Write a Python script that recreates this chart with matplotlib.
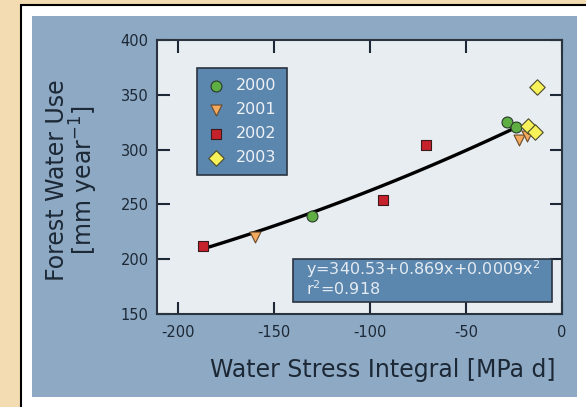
import numpy as np
import matplotlib
matplotlib.use("Agg")
from matplotlib import pyplot as plt
from matplotlib.patches import Rectangle

plt.rcParams['axes.unicode_minus'] = False

# data
x2000 = [-130, -28.5, -24]
y2000 = [239, 325, 321]
x2001 = [-160, -22.5, -18]
y2001 = [220, 308.5, 312.5]
x2002 = [-187, -93.5, -71]
y2002 = [212.5, 254, 304]
x2003 = [-13, -17.5, -14]
y2003 = [357, 321.5, 316]

fit_coef = [340.53, 0.869, 0.0009]
fit_range = [-187, -25]

fig = plt.figure(figsize=(5.86, 4.07), dpi=100, facecolor='#f4dcb2')

# white frame + blue panel
fig.patches.append(Rectangle((0.036, -0.02), 1.0, 1.008, transform=fig.transFigure,
                             facecolor='white', edgecolor='black', linewidth=1.5, zorder=-10))
fig.patches.append(Rectangle((0.0546, 0.0246), 0.930, 0.936, transform=fig.transFigure,
                             facecolor='#8ea9c3', edgecolor='none', zorder=-9))

ax = fig.add_axes([0.268, 0.2285, 0.691, 0.673])
ax.set_facecolor('#e8edf2')

txt = '#1c2836'
ax.scatter(x2000, y2000, marker='o', s=62, color='#5eae44', edgecolor='#2a3a2a', linewidth=0.8, label='2000', zorder=3)
ax.scatter(x2001, y2001, marker='v', s=62, color='#f3a95e', edgecolor='#6a4a2a', linewidth=0.8, label='2001', zorder=3)
ax.scatter(x2002, y2002, marker='s', s=58, color='#c6222b', edgecolor='#3a1a1a', linewidth=0.8, label='2002', zorder=3)
ax.scatter(x2003, y2003, marker='D', s=62, color='#f7f15a', edgecolor='#4a4a2a', linewidth=0.8, label='2003', zorder=3)

xf = np.linspace(fit_range[0], fit_range[1], 100)
yf = fit_coef[0] + fit_coef[1] * xf + fit_coef[2] * xf ** 2
ax.plot(xf, yf, color='black', linewidth=2.4, zorder=2)

ax.set_xlim(-211, 0)
ax.set_ylim(150, 400)
ax.set_xticks([-200, -150, -100, -50, 0])
ax.set_yticks([150, 200, 250, 300, 350, 400])
ax.tick_params(direction='in', length=9, width=1.5, top=True, right=True,
               labelsize=10.5, colors=txt)
ax.tick_params(axis='x', pad=8)
ax.tick_params(axis='y', pad=6)
for sp in ax.spines.values():
    sp.set_linewidth(1.5)
    sp.set_color('#2a3440')

ax.set_xlabel('Water Stress Integral [MPa d]', fontsize=17, color=txt)
ax.xaxis.set_label_coords(0.985, -0.16)
ax.xaxis.label.set_ha('right')
ax.set_ylabel('Forest Water Use\n[mm year$^{-1}$]', fontsize=17, color=txt, linespacing=0.95)
ax.yaxis.set_label_coords(-0.14, 0.49)

leg = ax.legend(loc='upper left', bbox_to_anchor=(0.099, 0.898), fancybox=False,
                facecolor='#5b86ad', edgecolor='#2a3440', framealpha=1, fontsize=11.5,
                labelcolor='#eef2f6', borderpad=0.65, labelspacing=0.55, handletextpad=0.8,
                handlelength=1.0, borderaxespad=0)
leg.get_frame().set_linewidth(1.2)

# equation box
ax.add_patch(Rectangle((0.335, 0.045), 0.64, 0.157, transform=ax.transAxes,
                       facecolor='#5b86ad', edgecolor='#2a3440', linewidth=1.2, zorder=4))
ax.text(0.368, 0.164, 'y=340.53+0.869x+0.0009x$^2$', transform=ax.transAxes,
        fontsize=11.5, color='#e4ebf2', va='center', ha='left', zorder=5)
ax.text(0.368, 0.091, 'r$^2$=0.918', transform=ax.transAxes,
        fontsize=11.5, color='#e4ebf2', va='center', ha='left', zorder=5)

fig.savefig('out.png', dpi=100, facecolor=fig.get_facecolor())
